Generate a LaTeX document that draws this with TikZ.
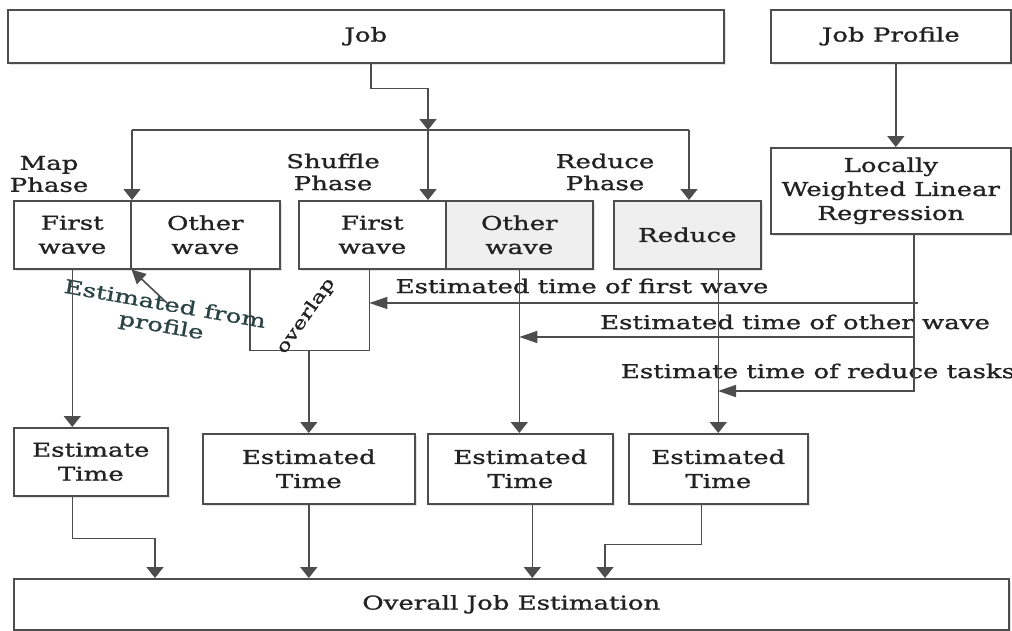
\documentclass[tikz,border=0pt]{standalone}
\usepackage{fontspec}
\setmainfont{DejaVu Serif}[FakeStretch=1.37,FakeBold=1.2]
\usetikzlibrary{arrows.meta,shadows,calc}
\definecolor{ln}{HTML}{4D4D4D}
\definecolor{tx}{HTML}{222222}
\definecolor{gfill}{HTML}{EFEFEF}
\definecolor{tealtx}{HTML}{2A4444}
\begin{document}
\begin{tikzpicture}[x=1pt,y=-1pt,font=\fontsize{19}{24}\selectfont,text=tx,
  box/.style={draw=ln,line width=1.6pt,fill=white,anchor=north west,align=center,inner sep=0pt,
    drop shadow={shadow xshift=2pt,shadow yshift=-2pt,opacity=0.22}},
  lbl/.style={align=center,inner sep=0pt,font=\fontsize{19}{22}\selectfont},
  plain/.style={draw=ln,line width=1.6pt},
  varr/.style={draw=ln,line width=1.6pt,-{Triangle[length=11pt,width=17pt]}},
  harr/.style={draw=ln,line width=1.6pt,-{Triangle[length=18pt,width=12pt]}},
  darr/.style={draw=ln,line width=1.6pt,-{Triangle[length=14pt,width=14pt]}}]
\useasboundingbox (0,0) rectangle (1012,630);
% boxes
\node[box,minimum width=716pt,minimum height=53pt] (job) at (7,9) {Job};
\node[box,minimum width=240pt,minimum height=53pt] (prof) at (770,9) {Job Profile};
\node[box,minimum width=240pt,minimum height=86pt] (lwlr) at (770,147) {Locally\\Weighted Linear\\Regression};
\node[box,minimum width=117pt,minimum height=68pt] (mapF) at (13,200) {First\\wave};
\node[box,minimum width=149pt,minimum height=68pt] (mapO) at (130,200) {Other\\wave};
\node[box,minimum width=147pt,minimum height=68pt] (shF) at (298,200) {First\\wave};
\node[box,fill=gfill,minimum width=147pt,minimum height=68pt] (shO) at (445,200) {Other\\wave};
\node[box,fill=gfill,minimum width=147pt,minimum height=68pt] (red) at (613,200) {Reduce};
\node[box,minimum width=154pt,minimum height=68pt] (e1) at (13,427) {Estimate\\Time};
\node[box,minimum width=212pt,minimum height=70pt] (e2) at (202,433) {Estimated\\Time};
\node[box,minimum width=185pt,minimum height=70pt] (e3) at (427,433) {Estimated\\Time};
\node[box,minimum width=179pt,minimum height=70pt] (e4) at (628,433) {Estimated\\Time};
\node[box,minimum width=995pt,minimum height=51pt] (all) at (13,578) {Overall Job Estimation};
% overlap box (open at top)
\node[anchor=north west,minimum width=119pt,minimum height=82pt,inner sep=0pt] (ov) at (250,268) {};
\draw[plain] (ov.north west) -- (ov.south west) -- (ov.south east) -- (ov.north east);
\node[rotate=55,inner sep=0pt,font=\fontsize{17}{20}\selectfont] (ovt) at (306,316) {overlap};
% phase labels
\node[lbl] (mapph) at (49,174) {Map\\Phase};
\node[lbl] (shph) at (333,172) {Shuffle\\Phase};
\node[lbl] (redph) at (605,172) {Reduce\\Phase};
% edge labels
\node[inner sep=0pt] (l1) at (582,286) {Estimated time of first wave};
\node[inner sep=0pt] (l2) at (795,322) {Estimated time of other wave};
\node[inner sep=0pt] (l3) at (818,371) {Estimate time of reduce tasks};
\node[rotate=-10,align=center,inner sep=0pt,text=tealtx,font=\fontsize{19}{22}\selectfont] (l4) at (163,316) {Estimated from\\profile};
% coordinates
\coordinate (busL) at (132,130);
\coordinate (busM) at (428,130);
\coordinate (busR) at (689,130);
\coordinate (r1) at (918,303);
\coordinate (r2) at (913,337);
\coordinate (r3) at (718,391);
\coordinate (p0) at (167,303);
\coordinate (b1) at (155,578);
\coordinate (b4) at (605,578);
% connectors top
\draw[varr] ([xshift=5pt]job.south) -- ++(0,25) -| (busM);
\draw[plain] (busL) -- (busR);
\draw[varr] (busL) -- (busL |- mapF.north);
\draw[varr] (busM) -- (busM |- shF.north);
\draw[varr] (busR) -- (busR |- red.north);
\draw[varr] ([xshift=5pt]prof.south) -- ([xshift=5pt]lwlr.north);
% LWLR outputs
\draw[harr] ([xshift=23pt]lwlr.south) |- (r3);
\draw[harr] (r1) -- (r1 -| ov.east);
\draw[harr] (r2) -- (r2 -| shO.south);
% profile estimate
\draw[darr] (p0) -- (mapF.south east);
% verticals down
\draw[varr] (mapF.south) -- (mapF.south |- e1.north);
\draw[varr] (ov.south -| e2.north) -- (e2.north);
\draw[varr] (shO.south) -- (shO.south |- e3.north);
\draw[varr] (red.south -| e4.north) -- (e4.north);
% bottom
\draw[varr] (e1.south -| mapF.south) -- ++(0,42) -| (b1);
\draw[varr] (e2.south) -- (e2.south |- all.north);
\draw[varr] ([xshift=12pt]e3.south) -- ([xshift=12pt]e3.south |- all.north);
\draw[varr] ([xshift=-17pt]e4.south) -- ++(0,40) -| (b4);
\end{tikzpicture}
\end{document}
